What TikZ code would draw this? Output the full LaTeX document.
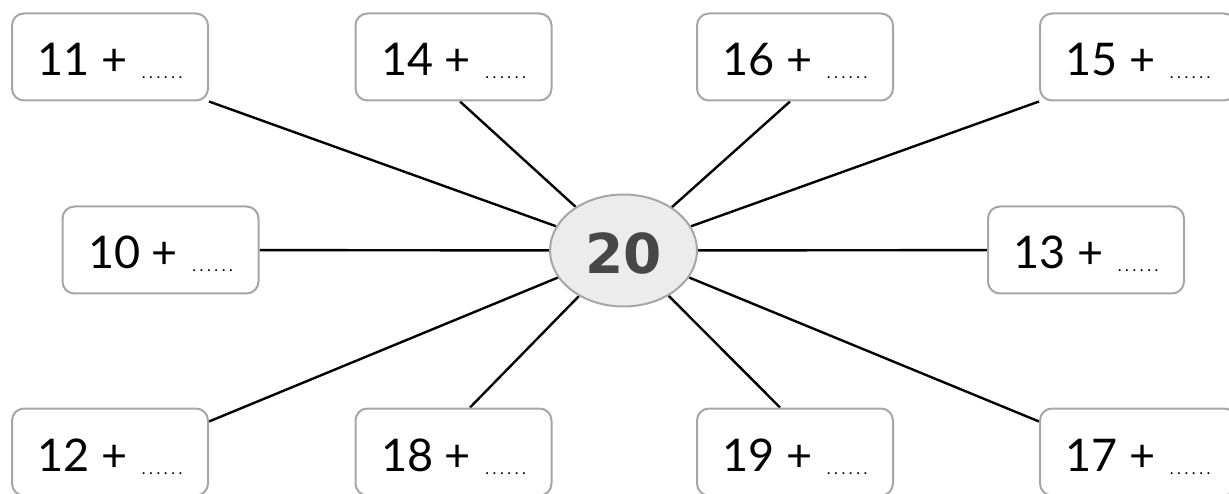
\documentclass[tikz,border=0pt]{standalone}
\usepackage{fontspec}
\setmainfont{Lato}
\newfontfamily\numfont{DejaVu Sans}
\usetikzlibrary{calc,backgrounds,shapes.geometric}
\definecolor{boxgray}{HTML}{A6A6A6}
\definecolor{ellfill}{HTML}{ECECEC}
\definecolor{numgray}{HTML}{474747}
\newcommand{\blanks}{\kern3pt\raisebox{-3pt}{\fontsize{16}{16}\selectfont .\kern3.6pt.\kern3.6pt.\kern3.6pt.\kern3.6pt.\kern3.6pt.}}
\tikzset{
  sumbox/.style={draw=boxgray, line width=2pt, rounded corners=12pt, fill=white,
    minimum width=196pt, minimum height=87pt, inner sep=0pt,
    font=\fontsize{45}{45}\selectfont, text height=40pt, text depth=2pt},
  hub/.style={ellipse, draw=boxgray, line width=2pt, fill=ellfill,
    minimum width=147pt, minimum height=112pt, inner sep=0pt, text=numgray,
    font=\numfont\bfseries\fontsize{55}{55}\selectfont, text height=46pt, text depth=0pt},
  conn/.style={line width=2.4pt, black}
}
\begin{document}
\begin{tikzpicture}[x=1pt,y=-1pt]
\useasboundingbox (0,0) rectangle (1229,494);
\clip (0,0) rectangle (1229,494);
% top row
\node[sumbox] (b11) at (110,57) {11 + \blanks};
\node[sumbox] (b14) at (453.5,57) {14 + \blanks};
\node[sumbox] (b16) at (795,57) {16 + \blanks};
\node[sumbox] (b15) at (1138,57) {15 + \blanks};
% middle row
\node[sumbox] (b10) at (160.5,250) {10 + \blanks};
\node[sumbox] (b13) at (1086,250) {13 + \blanks};
% bottom row
\node[sumbox] (b12) at (110,452) {12 + \blanks};
\node[sumbox] (b18) at (453.5,452) {18 + \blanks};
\node[sumbox] (b19) at (795,452) {19 + \blanks};
\node[sumbox] (b17) at (1138,452) {17 + \blanks};
% hub
\node[hub] (c) at (623.5,250.5) {20};
% connector ends
\coordinate (p11) at (b11.south east);
\coordinate (p14) at ($(b14.south)+(6.5,0)$);
\coordinate (p16) at ($(b16.south)+(-5,0)$);
\coordinate (p15) at (b15.south west);
\coordinate (p18) at ($(b18.north)+(16.5,0)$);
\coordinate (p19) at ($(b19.north)+(-15,0)$);
\coordinate (p12) at ($(b12.north east)+(0,14)$);
\coordinate (p17) at ($(b17.north west)+(0,14)$);
\begin{scope}[on background layer]
\draw[conn] (c) -- (p11);
\draw[conn] (c) -- (p14);
\draw[conn] (c) -- (p16);
\draw[conn] (c) -- (p15);
\draw[conn] (c) -- (b10);
\draw[conn] (c) -- (b13);
\draw[conn] (c) -- (p12);
\draw[conn] (c) -- (p18);
\draw[conn] (c) -- (p19);
\draw[conn] (c) -- (p17);
\end{scope}
\end{tikzpicture}
\end{document}
